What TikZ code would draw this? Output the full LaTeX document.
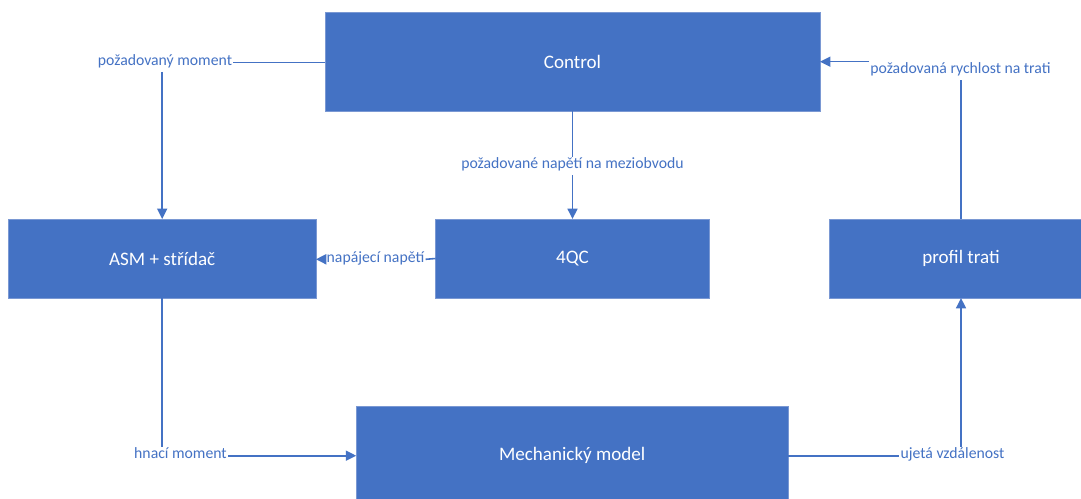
\documentclass[tikz,border=0pt]{standalone}
\usepackage{fontspec}
\setmainfont{Carlito}
\usetikzlibrary{arrows.meta}
\definecolor{officeblue}{HTML}{4472C4}
\definecolor{edgeblue}{HTML}{7A98D3}
\tikzset{
  blockbox/.style={rectangle, fill=officeblue, draw=edgeblue, line width=0.4pt,
    inner sep=0pt, outer sep=0pt, text=white,
    font=\fontsize{14.3}{17}\selectfont},
  flowlabel/.style={inner xsep=0.8pt, inner ysep=2.2pt, text=officeblue,
    text height=6.6pt, text depth=2.4pt,
    font=\fontsize{11.8}{14}\selectfont},
  conn/.style={draw=officeblue, line width=1.2pt},
  arr/.style={conn, -{Triangle[length=7.8pt, width=7.5pt]}}
}
\begin{document}
\begin{tikzpicture}[x=0.75pt, y=-0.75pt]
  \clip (0,0) rectangle (1081,499);
  \fill[white] (0,0) rectangle (1081,499);

  % blocks
  \node[blockbox, minimum width=371.25pt, minimum height=74.25pt] (ctrl) at (572.5,61.5) {Control};
  \node[blockbox, minimum width=230.5pt, minimum height=59.5pt] (asm) at (162.2,258.7) {ASM + střídač};
  \node[blockbox, minimum width=205.2pt, minimum height=59.25pt] (qc) at (572.5,258.5) {4QC};
  \node[blockbox, minimum width=198pt, minimum height=59.25pt] (prof) at (961,258.5) {profil trati};
  \node[blockbox, minimum width=324pt, minimum height=73.5pt] (mech) at (572.2,455.7) {Mechanický model};

  % labels
  \node[flowlabel] (lmom) at (165,62.7) {požadovaný moment};
  \node[flowlabel] (lnap) at (572.5,166) {požadované napětí na meziobvodu};
  \node[flowlabel] (lrych) at (960.5,70.5) {požadovaná rychlost na trati};
  \node[flowlabel] (lnapaj) at (375.5,259.3) {napájecí napětí};
  \node[flowlabel] (lhn) at (180.5,455.7) {hnací moment};
  \node[flowlabel] (luj) at (952.5,455.7) {ujetá vzdálenost};

  % connectors
  \draw[conn] (ctrl.west |- lmom.east) -- (lmom.east);
  \draw[arr] (lmom.south -| asm.north) -- (asm.north);

  \draw[conn] (ctrl.south) -- (lnap.north);
  \draw[arr] (lnap.south) -- (qc.north);

  \draw[conn] (qc.west) -- (lnapaj.east);
  \draw[arr] (lnapaj.west) -- (asm.east |- lnapaj.west);

  \draw[conn] (asm.south) -- (asm.south |- lhn.north);
  \draw[arr] (lhn.east) -- (mech.west);

  \draw[conn] (mech.east) -- (luj.west);
  \draw[arr] (luj.north -| prof.south) -- (prof.south);

  \draw[conn] (prof.north) -- (prof.north |- lrych.south);
  \coordinate (rychstart) at ([yshift=6.6pt]lrych.west);
  \draw[arr] (rychstart) -- (rychstart -| ctrl.east);
\end{tikzpicture}
\end{document}
